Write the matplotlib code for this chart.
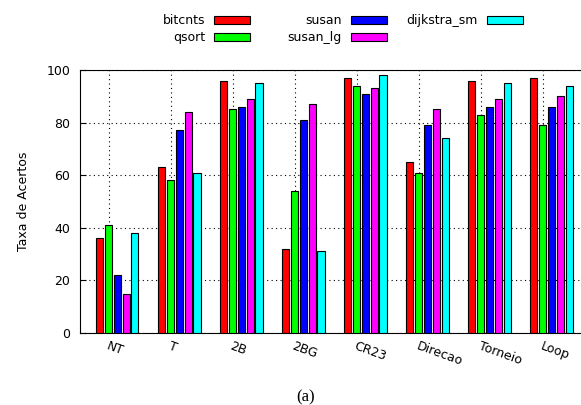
import matplotlib
matplotlib.use("Agg")
import matplotlib.pyplot as plt
import numpy as np

categories = ["NT", "T", "2B", "2BG", "CR23", "Direcao", "Torneio", "Loop"]
series = ["bitcnts", "qsort", "susan", "susan_lg", "dijkstra_sm"]
bitcnts = [36, 63, 96, 32, 97, 65, 96, 97]
qsort = [41, 58, 85, 54, 94, 61, 83, 79]
susan = [22, 77, 86, 81, 91, 79, 86, 86]
susan_lg = [15, 84, 89, 87, 93, 85, 89, 90]
dijkstra_sm = [38, 61, 95, 31, 98, 74, 95, 94]
values = [bitcnts, qsort, susan, susan_lg, dijkstra_sm]
colors = ["#ff0000", "#00ff00", "#0000ff", "#ff00ff", "#00ffff"]

plt.rcParams['font.family'] = ['DejaVu Sans']
fig = plt.figure(figsize=(5.81, 4.05), dpi=100)
W, H = 581, 405
ax = fig.add_axes([80 / W, (405 - 333) / H, (583 - 80) / W, (333 - 70) / H])

period = 7
x = np.arange(len(categories)) * period
bars = []
for k, (name, vals) in enumerate(zip(series, values)):
    b = ax.bar(x + k, vals, width=0.8, color=colors[k], edgecolor="black",
               linewidth=0.8, label=name, zorder=3)
    bars.append(b)

ax.set_xlim(-2.2, 54.57)
ax.set_ylim(0, 100)
ax.set_yticks([0, 20, 40, 60, 80, 100])
ax.set_xticks(x + 1.07)
ax.set_xticklabels(categories, rotation=-20, ha="left", va="top",
                   rotation_mode="anchor")
ax.tick_params(axis="both", direction="in", labelsize=9, length=4)
ax.tick_params(axis="y", pad=7)
ax.tick_params(axis="x", pad=5)
ax.grid(True, linestyle=(0, (1, 3)), color="black", linewidth=0.8, zorder=0)
ax.set_ylabel("Taxa de Acertos", fontsize=9, labelpad=12)
ax.spines["right"].set_visible(False)

# legend columns, gnuplot style: label then swatch
cols = [[0, 1], [2, 3], [4]]
right_edges = [250, 387, 523]
for idx, xr in zip(cols, right_edges):
    fig.legend([bars[i] for i in idx], [series[i] for i in idx],
               loc="upper right", bbox_to_anchor=(xr / W, 1 - 14 / H),
               frameon=False, markerfirst=False, fontsize=9,
               handlelength=2.9, handleheight=0.6, handletextpad=0.7,
               labelspacing=0.35, borderpad=0, borderaxespad=0)

fig.text(306 / W, 1 - 397 / H, "(a)", family="Liberation Serif", fontsize=12,
         ha="center", va="center")

fig.savefig("out.png", dpi=100)
